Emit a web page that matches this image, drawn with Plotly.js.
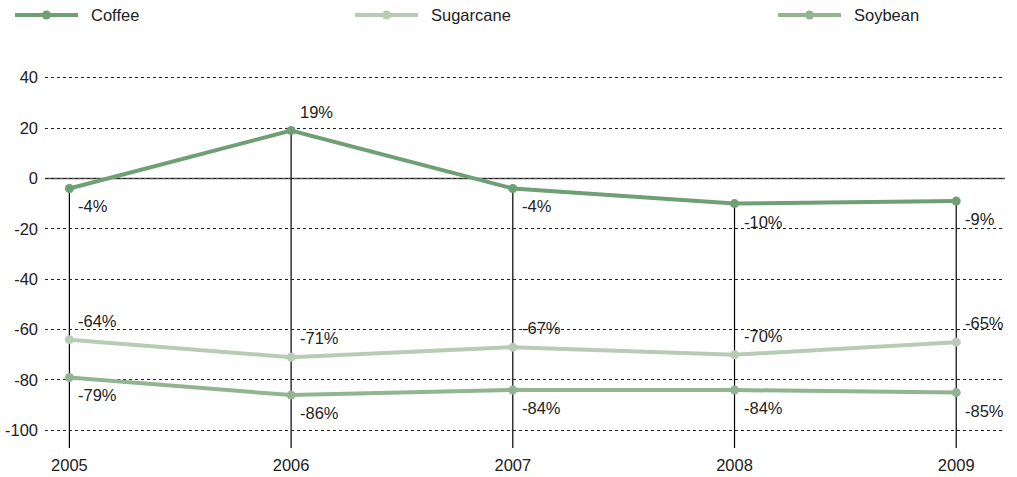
<!DOCTYPE html>
<html>
<head>
<meta charset="utf-8">
<script src="https://cdn.plot.ly/plotly-3.0.1.min.js"></script>
<style>
  html, body { margin: 0; padding: 0; background: #fff; }
  #chart { width: 1017px; height: 477px; }
</style>
</head>
<body>
<div id="chart"></div>
<script>
// Yearly change (%) by crop
const years = [2005, 2006, 2007, 2008, 2009];
const seriesNames = ["Coffee", "Sugarcane", "Soybean"];
const coffee = [-4, 19, -4, -10, -9];
const sugarcane = [-64, -71, -67, -70, -65];
const soybean = [-79, -86, -84, -84, -85];
const yTicks = [40, 20, 0, -20, -40, -60, -80, -100];

const seriesValues = [coffee, sugarcane, soybean];
const colors = ["#6f9f74", "#b8ccb5", "#93b492"];
// label placement per series: above ("up") or below ("down") the point
const labelSide = [
  ["down", "up", "down", "down", "down"],
  ["up", "up", "up", "up", "up"],
  ["down", "down", "down", "down", "down"]
];

const FONT = "Liberation Sans, Arial, Helvetica, sans-serif";
const FS = 16.5;
const yRange = [-107, 47];
const W = 1017, H = 477;
const margin = { l: 45, r: 12, t: 60, b: 29 };
const plotW = W - margin.l - margin.r;
const plotH = H - margin.t - margin.b;
const px2paperX = p => (p - margin.l) / plotW;
const px2paperY = p => (H - margin.b - p) / plotH;

const traces = seriesValues.map((vals, i) => ({
  type: "scatter",
  mode: "lines+markers",
  name: seriesNames[i],
  x: years,
  y: vals,
  line: { color: colors[i], width: 4 },
  marker: { color: colors[i], size: 9 },
  showlegend: false,
  hoverinfo: "x+y+name"
}));

const shapes = [];
const annotations = [];

// solid zero line
shapes.push({
  type: "line", xref: "paper", yref: "y", x0: 0, x1: 1, y0: 0, y1: 0,
  line: { color: "#555", width: 1.5 }, layer: "below"
});

// drop lines from the highest point of each year down to the bottom
years.forEach((yr, j) => {
  const top = Math.max(...seriesValues.map(v => v[j]));
  shapes.push({
    type: "line", xref: "x", yref: "y", x0: yr, x1: yr, y0: top, y1: yRange[0],
    line: { color: "#000", width: 1.2 }, layer: "below"
  });
});

// value labels
seriesValues.forEach((vals, i) => {
  vals.forEach((v, j) => {
    const up = labelSide[i][j] === "up";
    annotations.push({
      x: years[j], y: v, xref: "x", yref: "y",
      text: v + "%", showarrow: false,
      xanchor: "left", yanchor: "middle",
      xshift: 7, yshift: up ? 19 : -18,
      font: { family: FONT, size: FS, color: "#222" }
    });
  });
});

// legend drawn across the top
const legendX = [15, 355, 778];
const legendLen = 63;
const legendY = px2paperY(15);
seriesNames.forEach((name, i) => {
  const x0 = legendX[i];
  shapes.push({
    type: "line", xref: "paper", yref: "paper",
    x0: px2paperX(x0), x1: px2paperX(x0 + legendLen), y0: legendY, y1: legendY,
    line: { color: colors[i], width: 4 }
  });
  const cx = px2paperX(x0 + legendLen / 2);
  shapes.push({
    type: "circle", xref: "paper", yref: "paper",
    xsizemode: "pixel", ysizemode: "pixel",
    xanchor: cx, yanchor: legendY,
    x0: -4.5, x1: 4.5, y0: -4.5, y1: 4.5,
    fillcolor: colors[i], line: { width: 0 }
  });
  annotations.push({
    xref: "paper", yref: "paper",
    x: px2paperX(x0 + legendLen + 11), y: legendY,
    xanchor: "left", yanchor: "middle",
    text: name, showarrow: false,
    font: { family: FONT, size: FS, color: "#222" }
  });
});

const layout = {
  width: W, height: H,
  margin: margin,
  paper_bgcolor: "#fff",
  plot_bgcolor: "#fff",
  showlegend: false,
  font: { family: FONT, size: FS, color: "#222" },
  xaxis: {
    range: [2004.89, 2009.22],
    tickvals: years,
    ticktext: years.map(String),
    showgrid: false, zeroline: false, showline: false,
    ticks: "", ticklabelstandoff: 5,
    tickfont: { family: FONT, size: FS, color: "#222" },
    fixedrange: true
  },
  yaxis: {
    range: yRange,
    tickvals: yTicks,
    ticktext: yTicks.map(String),
    showgrid: true, gridcolor: "#222", gridwidth: 1, griddash: "3px,3px",
    zeroline: false, showline: false,
    ticks: "", ticklabelstandoff: 6,
    tickfont: { family: FONT, size: FS, color: "#222" },
    fixedrange: true
  },
  shapes: shapes,
  annotations: annotations
};

Plotly.newPlot("chart", traces, layout, { displayModeBar: false, staticPlot: true });
</script>
</body>
</html>
